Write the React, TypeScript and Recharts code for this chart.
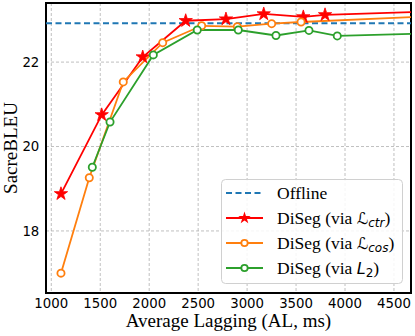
import React from 'react';
import {
  ComposedChart, Line, XAxis, YAxis, CartesianGrid, ReferenceLine, ReferenceArea, Legend,
} from 'recharts';

// x = average lagging (ms), y = SacreBLEU
const CTR_AL = [1099, 1515, 1934, 2373, 2784, 3170, 3574, 3796, 4900];
const CTR_BLEU = [18.88, 20.75, 22.12, 22.98, 23.02, 23.14, 23.07, 23.12, 23.2];
const COS_AL = [1099, 1388, 1735, 2138, 2536, 2900, 3251, 3551, 4900];
const COS_BLEU = [17.0, 19.26, 21.53, 22.46, 22.86, 22.84, 22.91, 22.95, 23.09];
const L2_AL = [1419, 1600, 2042, 2491, 2910, 3295, 3632, 3921, 4900];
const L2_BLEU = [19.51, 20.58, 22.17, 22.76, 22.76, 22.63, 22.75, 22.62, 22.685];
const OFFLINE_BLEU = 22.92;

const X_TICKS = [1000, 1500, 2000, 2500, 3000, 3500, 4000, 4500];
const Y_TICKS = [18, 20, 22];
const X_DOMAIN: [number, number] = [946, 4674];
const Y_DOMAIN: [number, number] = [16.53, 23.4];

const RED = '#ff0000';
const ORANGE = '#ff7f0e';
const GREEN = '#2ca02c';
const BLUE = '#1f77b4';

const SERIF = '"Liberation Serif", "Times New Roman", serif';
const SANS = '"DejaVu Sans", sans-serif';

const toRows = (xs: number[], ys: number[]) => xs.map((x, i) => ({ x, y: ys[i] }));
const ctrData = toRows(CTR_AL, CTR_BLEU);
const cosData = toRows(COS_AL, COS_BLEU);
const l2Data = toRows(L2_AL, L2_BLEU);

function starPoints(cx: number, cy: number, r: number) {
  const pts: string[] = [];
  for (let i = 0; i < 10; i++) {
    const rad = i % 2 === 0 ? r : r * 0.382;
    const a = -Math.PI / 2 + (i * Math.PI) / 5;
    pts.push(`${cx + rad * Math.cos(a)},${cy + rad * Math.sin(a)}`);
  }
  return pts.join(' ');
}

// eslint-disable-next-line @typescript-eslint/no-explicit-any
function StarDot(props: any) {
  const { cx, cy, index } = props;
  if (cx == null || cy == null) return null;
  return <polygon key={`s${index}`} points={starPoints(cx, cy, 7)} fill={RED} stroke={RED} strokeWidth={0.8} />;
}

function ringDot(color: string) {
  // eslint-disable-next-line @typescript-eslint/no-explicit-any
  return (props: any) => {
    const { cx, cy, index } = props;
    if (cx == null || cy == null) return null;
    return <circle key={`c${index}`} cx={cx} cy={cy} r={3.6} fill="#fff" stroke={color} strokeWidth={1.8} />;
  };
}

function LegendBox() {
  const rowY = (i: number) => 14 + i * 25;
  const handle = (i: number, color: string, dashed?: boolean) => (
    <line x1={5} x2={42} y1={rowY(i)} y2={rowY(i)} stroke={color} strokeWidth={2}
      strokeDasharray={dashed ? '6 3.5' : undefined} />
  );
  return (
    <svg width={182} height={105} style={{ display: 'block' }}>
      <rect x={0.5} y={0.5} width={181} height={104} rx={4} fill="#fff" fillOpacity={0.85} stroke="#d0d0d0" />
      {handle(0, BLUE, true)}
      <text x={56} y={rowY(0) + 5.5} fontFamily={SERIF} fontSize={17.5}>Offline</text>

      {handle(1, RED)}
      <polygon points={starPoints(23.5, rowY(1), 6.5)} fill={RED} />
      <text x={56} y={rowY(1) + 5.5} fontFamily={SERIF} fontSize={17.5}>
        DiSeg (via <tspan fontFamily={SANS} fontSize={16}>ℒ</tspan>
        <tspan fontFamily={SANS} fontStyle="italic" fontSize={12} dy={3}>ctr</tspan>
        <tspan dy={-3}>)</tspan>
      </text>

      {handle(2, ORANGE)}
      <circle cx={23.5} cy={rowY(2)} r={3.2} fill="#fff" stroke={ORANGE} strokeWidth={1.8} />
      <text x={56} y={rowY(2) + 5.5} fontFamily={SERIF} fontSize={17.5}>
        DiSeg (via <tspan fontFamily={SANS} fontSize={16}>ℒ</tspan>
        <tspan fontFamily={SANS} fontStyle="italic" fontSize={12} dy={3}>cos</tspan>
        <tspan dy={-3}>)</tspan>
      </text>

      {handle(3, GREEN)}
      <circle cx={23.5} cy={rowY(3)} r={3.2} fill="#fff" stroke={GREEN} strokeWidth={1.8} />
      <text x={56} y={rowY(3) + 5.5} fontFamily={SERIF} fontSize={17.5}>
        DiSeg (via <tspan fontFamily={SANS} fontStyle="italic" fontSize={16}>L</tspan>
        <tspan fontFamily={SANS} fontSize={12} dy={3}>2</tspan>
        <tspan dy={-3}>)</tspan>
      </text>
    </svg>
  );
}

// eslint-disable-next-line @typescript-eslint/no-explicit-any
function XLabel({ viewBox }: any) {
  return (
    <text x={viewBox.x + viewBox.width / 2} y={327} textAnchor="middle" fontFamily={SERIF} fontSize={19} fill="#000">
      Average Lagging (AL, ms)
    </text>
  );
}

// eslint-disable-next-line @typescript-eslint/no-explicit-any
function YLabel({ viewBox }: any) {
  const cy = viewBox.y + viewBox.height / 2;
  return (
    <text transform={`translate(16.7, ${cy}) rotate(-90)`} textAnchor="middle" fontFamily={SERIF} fontSize={19} fill="#000">
      SacreBLEU
    </text>
  );
}

const tickStyle = { fontFamily: SANS, fontSize: 13.3, fill: '#000' };

export default function App() {
  return (
    <div style={{ position: 'absolute', left: 0, top: 0 }}>
      <ComposedChart width={415} height={336} margin={{ top: 3, right: 4, bottom: 0, left: 0 }}>
        <CartesianGrid stroke="#b0b0b0" strokeWidth={0.8} strokeDasharray="3 2" />
        <XAxis
          type="number" dataKey="x" domain={X_DOMAIN} allowDataOverflow ticks={X_TICKS}
          height={43} axisLine={false} tickLine={false} tickSize={6} tickMargin={0}
          tick={tickStyle} label={<XLabel />}
        />
        <YAxis
          type="number" dataKey="y" domain={Y_DOMAIN} allowDataOverflow ticks={Y_TICKS}
          width={46} axisLine={false} tickLine={false} tickSize={5} tickMargin={1.7}
          tick={tickStyle} label={<YLabel />}
        />
        <ReferenceLine y={OFFLINE_BLEU} stroke={BLUE} strokeWidth={2} strokeDasharray="6 3.5" />
        <Line data={ctrData} dataKey="y" type="linear" stroke={RED} strokeWidth={1.8}
          dot={StarDot} activeDot={false} isAnimationActive={false} />
        <Line data={cosData} dataKey="y" type="linear" stroke={ORANGE} strokeWidth={1.8}
          dot={ringDot(ORANGE)} activeDot={false} isAnimationActive={false} />
        <Line data={l2Data} dataKey="y" type="linear" stroke={GREEN} strokeWidth={1.8}
          dot={ringDot(GREEN)} activeDot={false} isAnimationActive={false} />
        <ReferenceArea x1={X_DOMAIN[0]} x2={X_DOMAIN[1]} y1={Y_DOMAIN[0]} y2={Y_DOMAIN[1]}
          fill="none" stroke="#000" strokeWidth={2} />
        <Legend layout="vertical" align="center" verticalAlign="middle" content={<LegendBox />}
          wrapperStyle={{ left: 221, top: 179, width: 182, height: 105 }} />
      </ComposedChart>
    </div>
  );
}
